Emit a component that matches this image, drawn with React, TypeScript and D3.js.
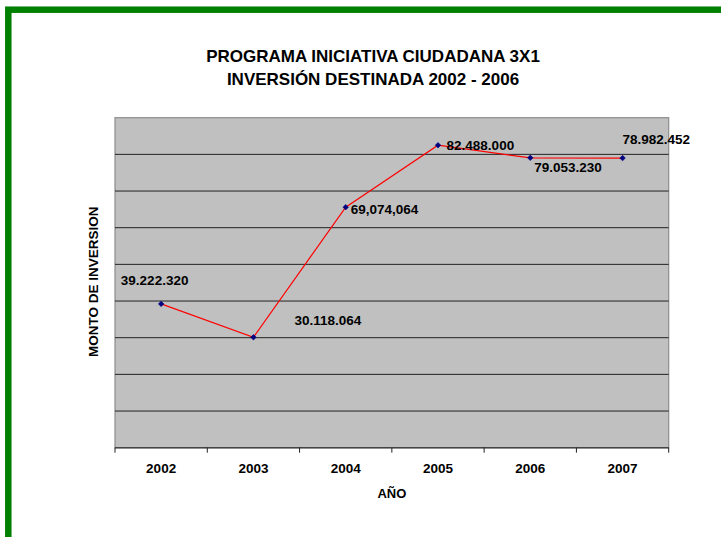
import React from "react";
import * as d3 from "d3";

const years = ["2002", "2003", "2004", "2005", "2006", "2007"];
const amounts = [39222320, 30118064, 65600000, 82488000, 79053230, 78982452];
const valueLabels = ["39.222.320", "30.118.064", "69,074,064", "82.488.000", "79.053.230", "78.982.452"];
const yTicks = [10e6, 20e6, 30e6, 40e6, 50e6, 60e6, 70e6, 80e6];
const titleLines = ["PROGRAMA INICIATIVA CIUDADANA 3X1", "INVERSIÓN DESTINADA 2002 - 2006"];

// label placement relative to each point: [dx, dy, anchor]
const labelPlace: [number, number, string][] = [
  [-6.5, -23.5, "middle"],
  [41, -16.6, "start"],
  [5, 2, "start"],
  [8.6, 0.3, "start"],
  [4, 9, "start"],
  [0, -18.4, "start"],
];

const W = 721;
const H = 537;
const L = 115, R = 668.7, T = 117.7, B = 447.7;
const FONT = "'Liberation Sans', Arial, sans-serif";

export default function App() {
  const x = d3.scaleBand().domain(years).range([L, R]);
  const y = d3.scaleLinear().domain([0, 90e6]).range([B, T]);
  const cx = (d: string) => (x(d) as number) + x.bandwidth() / 2;
  const line = d3
    .line<number>()
    .x((_, i) => cx(years[i]))
    .y((d) => y(d));
  const diamond = d3.symbol().type(d3.symbolSquare).size(15)() as string;
  const boundaries = years.map((d) => x(d) as number).concat([R]);

  return (
    <svg
      width={W}
      height={H}
      style={{ position: "absolute", left: 0, top: 0, background: "#fff" }}
      fontFamily={FONT}
    >
      <rect x={8.3} y={9.7} width={900} height={700} fill="none" stroke="#008000" strokeWidth={6.5} />
      {titleLines.map((t, i) => (
        <text key={t} x={373} y={61.5 + i * 23} textAnchor="middle" fontSize={17} fontWeight="bold" fill="#000">
          {t}
        </text>
      ))}
      <rect x={L} y={T} width={R - L} height={B - T} fill="#c0c0c0" stroke="#8c8c8c" strokeWidth={1.2} />
      {yTicks.map((v) => (
        <line key={v} x1={L} x2={R} y1={y(v)} y2={y(v)} stroke="#222" strokeWidth={1} />
      ))}
      <line x1={L} x2={R} y1={B} y2={B} stroke="#444" strokeWidth={1.5} />
      {boundaries.map((b, i) => (
        <line key={i} x1={b} x2={b} y1={B} y2={B + 5} stroke="#222" strokeWidth={1} />
      ))}
      {years.map((d) => (
        <text key={d} x={cx(d)} y={468.7} dy="0.35em" textAnchor="middle" fontSize={13.5} fontWeight="bold">
          {d}
        </text>
      ))}
      <text x={(L + R) / 2} y={493.3} dy="0.35em" textAnchor="middle" fontSize={13} fontWeight="bold">
        AÑO
      </text>
      <text
        transform={`translate(93.5, ${(T + B) / 2 - 1}) rotate(-90)`}
        dy="0.35em"
        textAnchor="middle"
        fontSize={13.5}
        fontWeight="bold"
      >
        MONTO DE INVERSION
      </text>
      <path d={line(amounts) as string} fill="none" stroke="#ff0000" strokeWidth={1.2} />
      {amounts.map((v, i) => (
        <path
          key={i}
          d={diamond}
          transform={`translate(${cx(years[i])},${y(v)}) rotate(45)`}
          fill="#000080"
          stroke="#000080"
          strokeWidth={0.6}
        />
      ))}
      {amounts.map((v, i) => {
        const [dx, dy, anchor] = labelPlace[i];
        return (
          <text
            key={"l" + i}
            x={cx(years[i]) + dx}
            y={y(v) + dy}
            dy="0.35em"
            textAnchor={anchor}
            fontSize={13.5}
            fontWeight="bold"
          >
            {valueLabels[i]}
          </text>
        );
      })}
    </svg>
  );
}
